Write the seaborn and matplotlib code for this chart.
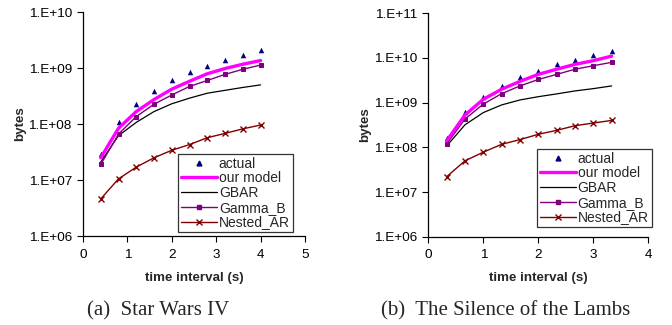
import numpy as np
import pandas as pd
import matplotlib
matplotlib.use("Agg")
import matplotlib.pyplot as plt
from matplotlib.ticker import FixedLocator, FuncFormatter
from matplotlib.lines import Line2D
import seaborn as sns

# Star Wars IV: time interval (s) vs bytes
sw_t = [0.4, 0.8, 1.2, 1.6, 2.0, 2.4, 2.8, 3.2, 3.6, 4.0]
sw_actual = [2.9e7, 1.07e8, 2.3e8, 3.9e8, 6.0e8, 8.4e8, 1.1e9, 1.39e9, 1.73e9, 2.1e9]
sw_model = [2.5e7, 8.4e7, 1.67e8, 2.74e8, 4.2e8, 5.8e8, 7.9e8, 9.8e8, 1.17e9, 1.36e9]
sw_gbar = [2.1e7, 6.2e7, 1.07e8, 1.67e8, 2.3e8, 2.9e8, 3.55e8, 4.0e8, 4.5e8, 5.0e8]
sw_gamma = [1.9e7, 6.6e7, 1.36e8, 2.26e8, 3.3e8, 4.7e8, 6.0e8, 7.7e8, 9.5e8, 1.13e9]
sw_nested = [4.6e6, 1.05e7, 1.7e7, 2.5e7, 3.4e7, 4.3e7, 5.7e7, 6.8e7, 8.2e7, 9.6e7]

# The Silence of the Lambs
sl_t = [1/3, 2/3, 1.0, 4/3, 5/3, 2.0, 7/3, 8/3, 3.0, 10/3]
sl_actual = [1.6e8, 6.1e8, 1.36e9, 2.4e9, 3.7e9, 5.2e9, 7.2e9, 9.2e9, 1.17e10, 1.43e10]
sl_model = [1.4e8, 5.3e8, 1.19e9, 2.0e9, 3.0e9, 4.3e9, 5.6e9, 7.2e9, 8.7e9, 1.1e10]
sl_gbar = [1.07e8, 3.2e8, 6.0e8, 8.9e8, 1.15e9, 1.36e9, 1.57e9, 1.83e9, 2.06e9, 2.37e9]
sl_gamma = [1.19e8, 4.3e8, 9.3e8, 1.59e9, 2.37e9, 3.3e9, 4.3e9, 5.6e9, 6.7e9, 8.0e9]
sl_nested = [2.2e7, 5.0e7, 7.8e7, 1.17e8, 1.49e8, 1.96e8, 2.4e8, 3.05e8, 3.5e8, 4.0e8]

series_names = ["actual", "our model", "GBAR", "Gamma_B", "Nested_AR"]
c_actual, c_model, c_gbar, c_gamma, c_nested = "#000080", "#FF00FF", "#000000", "#800080", "#800000"

sns.set_style("ticks")
plt.rcParams["font.family"] = ["Liberation Sans", "DejaVu Sans"]
plt.rcParams["font.size"] = 9.5

fig = plt.figure(figsize=(6.72, 3.25), dpi=100)
ax1 = fig.add_axes([0.1235, 0.2738, 0.3304, 0.6892])
ax2 = fig.add_axes([0.6374, 0.2717, 0.3274, 0.6874])


def draw(ax, t, actual, model, gbar, gamma, nested, xmax, ydec, xticks):
    df = pd.DataFrame({"t": t, "actual": actual, "model": model,
                       "gbar": gbar, "gamma": gamma, "nested": nested})
    sns.lineplot(data=df, x="t", y="nested", ax=ax, color=c_nested, lw=1.0,
                 marker="x", markersize=4, markeredgewidth=1.0, mec=c_nested)
    sns.lineplot(data=df, x="t", y="gbar", ax=ax, color=c_gbar, lw=0.9)
    sns.lineplot(data=df, x="t", y="gamma", ax=ax, color=c_gamma, lw=1.0,
                 marker="s", markersize=2.6, mec=c_gamma, mfc=c_gamma)
    sns.lineplot(data=df, x="t", y="model", ax=ax, color=c_model, lw=2.4)
    sns.scatterplot(data=df, x="t", y="actual", ax=ax, color=c_actual,
                    marker="^", s=16, linewidth=0)
    ax.set_yscale("log")
    ax.set_xlim(0, xmax)
    ax.set_ylim(1e6, 10 ** ydec)
    ax.yaxis.set_major_locator(FixedLocator([10.0 ** k for k in range(6, ydec + 1)]))
    ax.yaxis.set_minor_locator(FixedLocator([]))
    ax.yaxis.set_major_formatter(FuncFormatter(lambda v, p: "1.E+%02d" % int(round(np.log10(v)))))
    ax.set_xticks(xticks)
    ax.set_xticklabels([str(x) for x in xticks])
    ax.tick_params(axis="both", direction="out", length=4, width=0.8,
                   labelsize=9.7, colors="black")
    ax.tick_params(axis="x", pad=5)
    ax.tick_params(axis="y", pad=4)
    for s in ["top", "right"]:
        ax.spines[s].set_visible(False)
    for s in ["left", "bottom"]:
        ax.spines[s].set_color("black")
        ax.spines[s].set_linewidth(0.9)
    ax.set_xlabel("time interval (s)", fontsize=9.6, fontweight="bold", labelpad=8)
    ax.set_ylabel("bytes", fontsize=9.6, fontweight="bold", labelpad=2)


draw(ax1, sw_t, sw_actual, sw_model, sw_gbar, sw_gamma, sw_nested, 5, 10, [0, 1, 2, 3, 4, 5])
draw(ax2, sl_t, sl_actual, sl_model, sl_gbar, sl_gamma, sl_nested, 4, 11, [0, 1, 2, 3, 4])

handles = [
    Line2D([], [], ls="none", marker="^", ms=3.5, color=c_actual),
    Line2D([], [], color=c_model, lw=2.4),
    Line2D([], [], color=c_gbar, lw=0.9),
    Line2D([], [], color=c_gamma, lw=1.0, marker="s", ms=2.6),
    Line2D([], [], color=c_nested, lw=1.0, marker="x", ms=4),
]

legend_boxes = [(174 / 672, 1 - 229 / 325, 123 / 672, 72 / 325),
                (533 / 672, 1 - 223 / 325, 123 / 672, 70 / 325)]
for box in legend_boxes:
    leg = fig.legend(handles, series_names, loc="center", bbox_to_anchor=box,
                     bbox_transform=fig.transFigure, frameon=True, fancybox=False,
                     fontsize=10, handlelength=2.6, handletextpad=0.1,
                     labelspacing=0.05, borderpad=0.2, borderaxespad=0)
    leg.get_frame().set_edgecolor("black")
    leg.get_frame().set_linewidth(0.9)

fig.text(158 / 672, 1 - 311 / 325, "(a)  Star Wars IV", ha="center", va="center",
         fontsize=15, family=["Liberation Serif", "DejaVu Serif"])
fig.text(506 / 672, 1 - 311 / 325, "(b)  The Silence of the Lambs", ha="center", va="center",
         fontsize=15, family=["Liberation Serif", "DejaVu Serif"])

fig.savefig("out.png", dpi=100)
